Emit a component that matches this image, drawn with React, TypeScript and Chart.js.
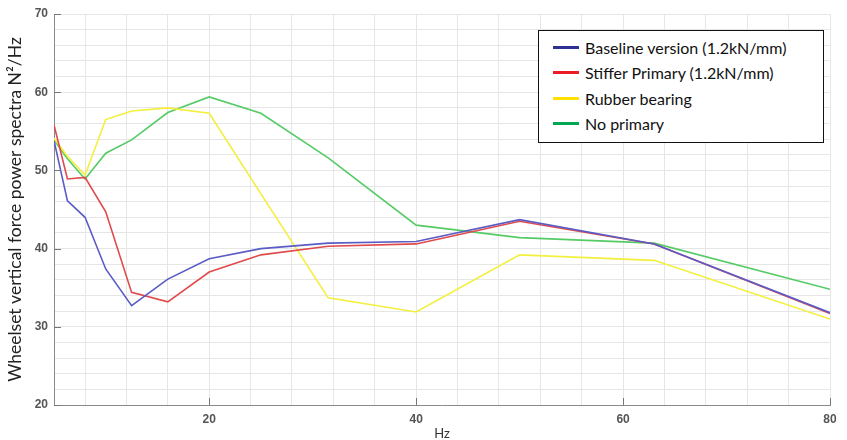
import React, { useEffect, useRef } from "react";
import { Chart, registerables } from "chart.js";

Chart.register(...registerables);

const FREQ_HZ = [5, 6.3, 8, 10, 12.5, 16, 20, 25, 31.5, 40, 50, 63, 80];
const BASELINE = [53.8, 46.1, 44.0, 37.4, 32.7, 36.1, 38.7, 40.0, 40.7, 40.9, 43.7, 40.6, 31.8];
const STIFFER = [55.8, 48.9, 49.1, 44.7, 34.4, 33.2, 37.0, 39.2, 40.3, 40.6, 43.5, 40.6, 31.7];
const RUBBER = [54.1, 51.8, 49.4, 56.5, 57.6, 58.0, 57.3, 47.0, 33.7, 31.9, 39.2, 38.5, 31.0];
const NO_PRIMARY = [53.9, 51.5, 48.9, 52.2, 53.9, 57.4, 59.4, 57.3, 51.6, 43.0, 41.4, 40.7, 34.8];

const SERIES_NAMES = [
  "Baseline version (1.2kN/mm)",
  "Stiffer Primary (1.2kN/mm)",
  "Rubber bearing",
  "No primary",
];
const LINE_COLORS = ["#5b5bc6", "#e04a4a", "#f3ef3c", "#55cb66"];
const LEGEND_COLORS = ["#2e3192", "#ed1c24", "#ffe000", "#00a651"];

const X_GRID = [8, 12, 16, 20, 24, 28, 32, 36, 40, 44, 48, 52, 56, 60, 64, 68, 72, 76, 80];
const X_LABELS = [20, 40, 60, 80];
const Y_LABELS = [20, 30, 40, 50, 60, 70];

const Y_TITLE = "Wheelset vertical force power spectra N\u00b2/Hz";
const X_TITLE = "Hz";

const innerTicks = {
  id: "innerTicks",
  afterDraw(chart: any) {
    const { ctx, chartArea, scales } = chart;
    ctx.save();
    ctx.strokeStyle = "#777";
    ctx.lineWidth = 1;
    ctx.beginPath();
    Y_LABELS.forEach((v) => {
      const py = Math.round(scales.y.getPixelForValue(v)) + 0.5;
      ctx.moveTo(chartArea.left, py);
      ctx.lineTo(chartArea.left + 7, py);
    });
    X_LABELS.forEach((v) => {
      const px = Math.round(scales.x.getPixelForValue(v)) + 0.5;
      ctx.moveTo(px, chartArea.bottom);
      ctx.lineTo(px, chartArea.bottom - 7);
    });
    ctx.stroke();
    ctx.restore();
  },
};

export default function App() {
  const ref = useRef<HTMLCanvasElement | null>(null);

  useEffect(() => {
    if (!ref.current) return;
    const all = [BASELINE, STIFFER, RUBBER, NO_PRIMARY];
    const chart = new Chart(ref.current, {
      type: "line",
      data: {
        datasets: all.map((vals, i) => ({
          label: SERIES_NAMES[i],
          data: vals.map((v, j) => ({ x: FREQ_HZ[j], y: v })),
          borderColor: LINE_COLORS[i],
          backgroundColor: LINE_COLORS[i],
          borderWidth: 1.6,
          pointRadius: 0,
          tension: 0,
          fill: false,
        })),
      },
      options: {
        animation: false,
        responsive: true,
        maintainAspectRatio: false,
        layout: { padding: { top: 14, right: 17, left: 0, bottom: 0 } },
        plugins: {
          legend: { display: false },
          tooltip: { enabled: false },
        },
        scales: {
          x: {
            type: "linear",
            min: 5,
            max: 80,
            afterBuildTicks: (scale: any) => {
              scale.ticks = X_GRID.map((v) => ({ value: v }));
            },
            afterFit: (scale: any) => {
              scale.height = 35;
            },
            ticks: {
              autoSkip: false,
              maxRotation: 0,
              padding: 7,
              color: "#555",
              font: { family: "Liberation Sans", size: 12, weight: "bold" },
              callback: (v: any) => (X_LABELS.includes(Number(v)) ? String(v) : ""),
            },
            grid: { color: "#e6e6e6", drawTicks: false },
            border: { display: true, color: "#8a8a8a", width: 1 },
            title: {
              display: true,
              text: X_TITLE,
              color: "#333",
              font: { family: "Lato", size: 13, lineHeight: 1 },
              padding: { top: 0, bottom: 0 },
            },
          },
          y: {
            type: "linear",
            min: 20,
            max: 70,
            afterFit: (scale: any) => {
              scale.width = 54;
            },
            ticks: {
              stepSize: 2,
              autoSkip: false,
              padding: 6,
              color: "#555",
              font: { family: "Liberation Sans", size: 12, weight: "bold" },
              callback: (v: any) => (Y_LABELS.includes(Number(v)) ? String(v) : ""),
            },
            grid: { color: "#e6e6e6", drawTicks: false },
            border: { display: true, color: "#8a8a8a", width: 1 },
            title: {
              display: true,
              text: Y_TITLE,
              color: "#222",
              font: { family: "Lato", size: 17.5, lineHeight: 1.2 },
              padding: { top: 5, bottom: 0 },
            },
          },
        },
      },
      plugins: [innerTicks],
    });
    return () => chart.destroy();
  }, []);

  return (
    <div style={{ position: "absolute", left: 0, top: 0, width: 847, height: 440, background: "#fff" }}>
      <canvas ref={ref} width={847} height={440} />
      <div
        style={{
          position: "absolute",
          left: 538,
          top: 30,
          width: 286,
          height: 113,
          boxSizing: "border-box",
          border: "1px solid #111",
          background: "#fff",
          paddingTop: 4,
          fontFamily: "Lato",
          fontSize: 16,
          color: "#111",
        }}
      >
        {SERIES_NAMES.map((name, i) => (
          <div key={name} style={{ display: "flex", alignItems: "center", height: 25.3 }}>
            <span
              style={{
                display: "inline-block",
                width: 26,
                height: 3,
                marginLeft: 14,
                marginRight: 6,
                background: LEGEND_COLORS[i],
              }}
            />
            <span style={{ whiteSpace: "nowrap" }}>{name}</span>
          </div>
        ))}
      </div>
    </div>
  );
}
